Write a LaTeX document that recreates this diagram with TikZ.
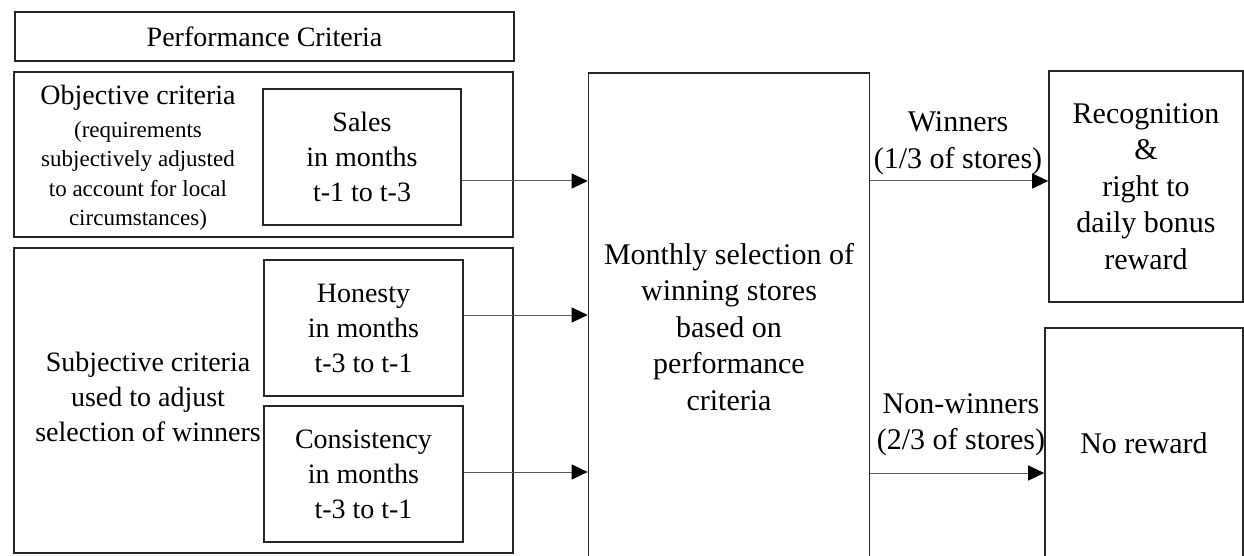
\documentclass[tikz,border=0pt]{standalone}
\usepackage{fontspec}
\setmainfont{Liberation Serif}
\usetikzlibrary{arrows.meta}
\begin{document}
\begin{tikzpicture}[x=1pt,y=-1pt,
  box/.style={draw=black!85, line width=1.6pt, inner sep=0pt, align=center},
  txtL/.style={align=center, font=\fontsize{28}{35}\selectfont, inner sep=0pt},
  txtR/.style={align=center, font=\fontsize{30}{36.5}\selectfont, inner sep=0pt},
  small/.style={align=center, font=\fontsize{23}{29.5}\selectfont, inner sep=0pt},
  arr/.style={draw=black!65, line width=1pt, -{Triangle[length=16pt,width=15pt,color=black]}}]
\useasboundingbox (0,0) rectangle (1244,556);
% left column
\node[box, txtL, minimum width=499pt, minimum height=49pt] (perf) at (264.5,36.5) {Performance Criteria};
\node[box, minimum width=499pt, minimum height=165pt] (obj) at (263.5,154.5) {};
\node[txtL] (objtitle) at (138,98) {Objective criteria};
\node[small] (objsub) at (138,176) {(requirements\\subjectively adjusted\\to account for local\\circumstances)};
\node[box, txtL, minimum width=198pt, minimum height=136pt] (sales) at (362,157) {Sales\\in months\\t-1 to t-3};
\node[box, minimum width=499pt, minimum height=305pt] (subj) at (263.5,400.5) {};
\node[txtL] (subjtxt) at (148,397) {Subjective criteria\\used to adjust\\selection of winners};
\node[box, txtL, minimum width=199pt, minimum height=136pt] (hon) at (363.5,328) {Honesty\\in months\\t-3 to t-1};
\node[box, txtL, minimum width=199pt, minimum height=136pt] (cons) at (363.5,474) {Consistency\\in months\\t-3 to t-1};
% middle
\node[box, minimum width=281pt, minimum height=485pt] (mid) at (729,315.5) {};
\node[txtR] (midtxt) at (729,327) {Monthly selection of\\winning stores\\based on\\performance\\criteria};
% right
\node[box, txtR, minimum width=194pt, minimum height=231pt] (rec) at (1146,186.5) {Recognition\\\&\\right to\\daily bonus\\reward};
\node[box, txtR, minimum width=198pt, minimum height=230pt] (nr) at (1144,443) {No reward};
% labels
\node[txtR] (winlbl) at (958,143.5) {Winners\\(1/3 of stores)};
\node[txtR] (nwlbl) at (961,425) {Non-winners\\(2/3 of stores)};
% arrows
\draw[arr] ([yshift=-24pt]sales.east) coordinate (s1) -- (s1 -| mid.west);
\draw[arr] ([yshift=13pt]hon.east) coordinate (h1) -- (h1 -| mid.west);
\draw[arr] ([yshift=2pt]cons.east) coordinate (c1) -- (c1 -| mid.west);
\draw[arr] (s1 -| mid.east) -- (s1 -| rec.west);
\draw[arr] ([yshift=-157.5pt]mid.east) coordinate (n1) -- (n1 -| nr.west);
\end{tikzpicture}
\end{document}
